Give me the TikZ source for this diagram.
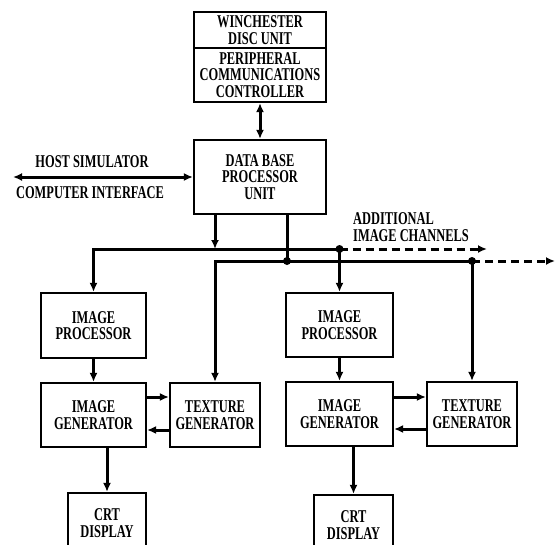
\documentclass[tikz,border=0pt]{standalone}
\usepackage{fontspec}
\setmainfont{Liberation Serif}[FakeStretch=0.69]
\usetikzlibrary{arrows.meta}

\begin{document}
\begin{tikzpicture}[x=1pt, y=-1pt,
  >={Latex[length=9pt,width=8pt]},
  lbl/.style={font=\bfseries\fontsize{18}{16.5}\selectfont, align=center, inner sep=0pt},
  blk/.style={lbl, draw, line width=2.2pt},
  wire/.style={line width=3pt},
  dashwire/.style={wire, dash pattern=on 8pt off 5pt}]
\useasboundingbox (0,0) rectangle (559,544);

\node[blk, minimum width=132pt, minimum height=36pt] (disc) at (260,30) {WINCHESTER\\DISC UNIT};
\node[blk, minimum width=132pt, minimum height=54pt] (pcc) at (260,75) {PERIPHERAL\\COMMUNICATIONS\\CONTROLLER};
\node[blk, minimum width=132pt, minimum height=74pt] (dbpu) at (260,177) {DATA BASE\\PROCESSOR\\UNIT};

\node[lbl] (hostlbl) at (92,162) {HOST SIMULATOR};
\node[lbl] (cilbl) at (90,193) {COMPUTER INTERFACE};
\node[lbl, align=left, anchor=west] (addlbl) at (353,227) {ADDITIONAL\\IMAGE CHANNELS};

% left channel
\node[blk, minimum width=105pt, minimum height=65pt] (ip1) at (93.5,325.5) {IMAGE\\PROCESSOR};
\node[blk, minimum width=105pt, minimum height=64pt] (ig1) at (93.5,415) {IMAGE\\GENERATOR};
\node[blk, minimum width=90pt, minimum height=64pt] (tg1) at (215,415) {TEXTURE\\GENERATOR};
\node[blk, minimum width=78pt, minimum height=60pt] (crt1) at (107,523) {CRT\\DISPLAY};

% right channel
\node[blk, minimum width=107pt, minimum height=64pt] (ip2) at (339.5,325) {IMAGE\\PROCESSOR};
\node[blk, minimum width=107pt, minimum height=64pt] (ig2) at (339.5,414) {IMAGE\\GENERATOR};
\node[blk, minimum width=90pt, minimum height=64pt] (tg2) at (472,414) {TEXTURE\\GENERATOR};
\node[blk, minimum width=79pt, minimum height=60pt] (crt2) at (353.5,525) {CRT\\DISPLAY};

\coordinate (host) at (13,177);
\coordinate (bus1) at (339.5,249);
\coordinate (bus1end) at (487,249);
\coordinate (bus2) at (287,261);
\coordinate (bus2r) at (472,261);
\coordinate (bus2end) at (555,261);

\draw[wire, <->] (pcc) -- (dbpu);
\draw[wire, <->] (host) -- (dbpu.west);
\draw[wire, ->] (dbpu.south -| tg1.north) -- (tg1.north |- bus1);
\draw[wire] (dbpu.south -| bus2) -- (bus2);

\draw[wire, ->] (bus1) -| (ip1.north);
\draw[wire, ->] (bus1) -- (ip2.north);
\draw[dashwire, ->] (bus1) -- (bus1end);
\draw[wire, ->] (bus2r) -| (tg1.north);
\draw[wire, ->] (bus2r) -- (tg2.north);
\draw[dashwire, ->] (bus2r) -- (bus2end);
\fill (bus1) circle (4pt);
\fill (bus2) circle (4pt);
\fill (bus2r) circle (4pt);

\draw[wire, ->] (ip1) -- (ig1);
\draw[wire, ->] ([yshift=18pt]ig1.east) -- ([yshift=18pt]tg1.west);
\draw[wire, ->] ([yshift=-15pt]tg1.west) -- ([yshift=-15pt]ig1.east);
\draw[wire, ->] (ig1.south -| crt1.north) -- (crt1.north);

\draw[wire, ->] (ip2) -- (ig2);
\draw[wire, ->] ([yshift=17pt]ig2.east) -- ([yshift=17pt]tg2.west);
\draw[wire, ->] ([yshift=-15pt]tg2.west) -- ([yshift=-15pt]ig2.east);
\draw[wire, ->] (ig2.south -| crt2.north) -- (crt2.north);
\end{tikzpicture}
\end{document}
